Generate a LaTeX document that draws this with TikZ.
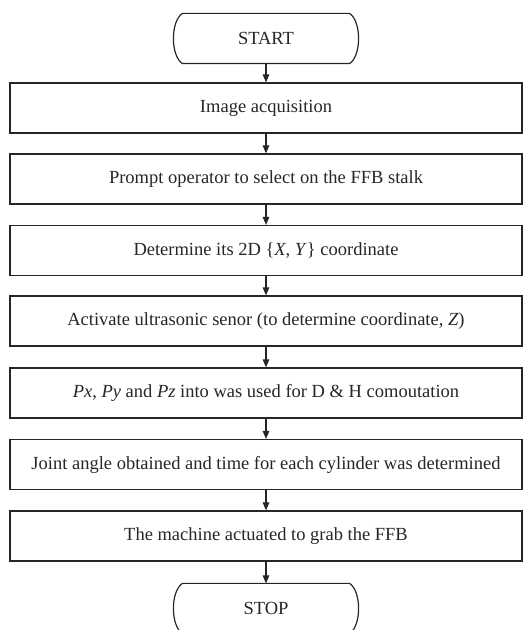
\documentclass[tikz,border=0pt]{standalone}
\usepackage{fontspec}
\setmainfont{Liberation Serif}
\usetikzlibrary{arrows.meta,calc}
\begin{document}
\begin{tikzpicture}[x=1pt,y=1pt,
  line width=1.2pt, draw=black!85,
  every node/.style={text=black!85, font=\fontsize{18.5}{22}\selectfont},
  procbox/.style={draw, rectangle, minimum width=512pt, minimum height=50pt, inner sep=0pt},
  termbox/.style={rectangle, minimum width=166pt, minimum height=49pt, inner sep=0pt},
  flow/.style={-{Triangle[length=8pt,width=6.5pt]}, line width=1.1pt}]
\useasboundingbox (0,0) rectangle (525,630);
\node[termbox] (start) at (266,591.5) {START};
\node[procbox] (b1) at (266,522) {Image acquisition};
\node[procbox] (b2) at (266,451) {Prompt operator to select on the FFB stalk};
\node[procbox] (b3) at (266,379.5) {Determine its 2D \{\textit{X}, \textit{Y}\} coordinate};
\node[procbox] (b4) at (266,309) {Activate ultrasonic senor (to determine coordinate, \textit{Z})};
\node[procbox] (b5) at (266,237) {\textit{Px}, \textit{Py} and \textit{Pz} into was used for D \& H comoutation};
\node[procbox] (b6) at (266,165.5) {Joint angle obtained and time for each cylinder was determined};
\node[procbox] (b7) at (266,94) {The machine actuated to grab the FFB};
\node[termbox] (stop) at (266,21.5) {STOP};
\foreach \t in {start,stop}{
  \draw (\t.north west) -- (\t.north east)
    .. controls ($(\t.north east)+(12,-8)$) and ($(\t.south east)+(12,8)$) .. (\t.south east)
    -- (\t.south west)
    .. controls ($(\t.south west)+(-12,8)$) and ($(\t.north west)+(-12,-8)$) .. (\t.north west) -- cycle;
}
\draw[flow] (start) -- (b1);
\draw[flow] (b1) -- (b2);
\draw[flow] (b2) -- (b3);
\draw[flow] (b3) -- (b4);
\draw[flow] (b4) -- (b5);
\draw[flow] (b5) -- (b6);
\draw[flow] (b6) -- (b7);
\draw[flow] (b7) -- (stop);
\end{tikzpicture}
\end{document}
